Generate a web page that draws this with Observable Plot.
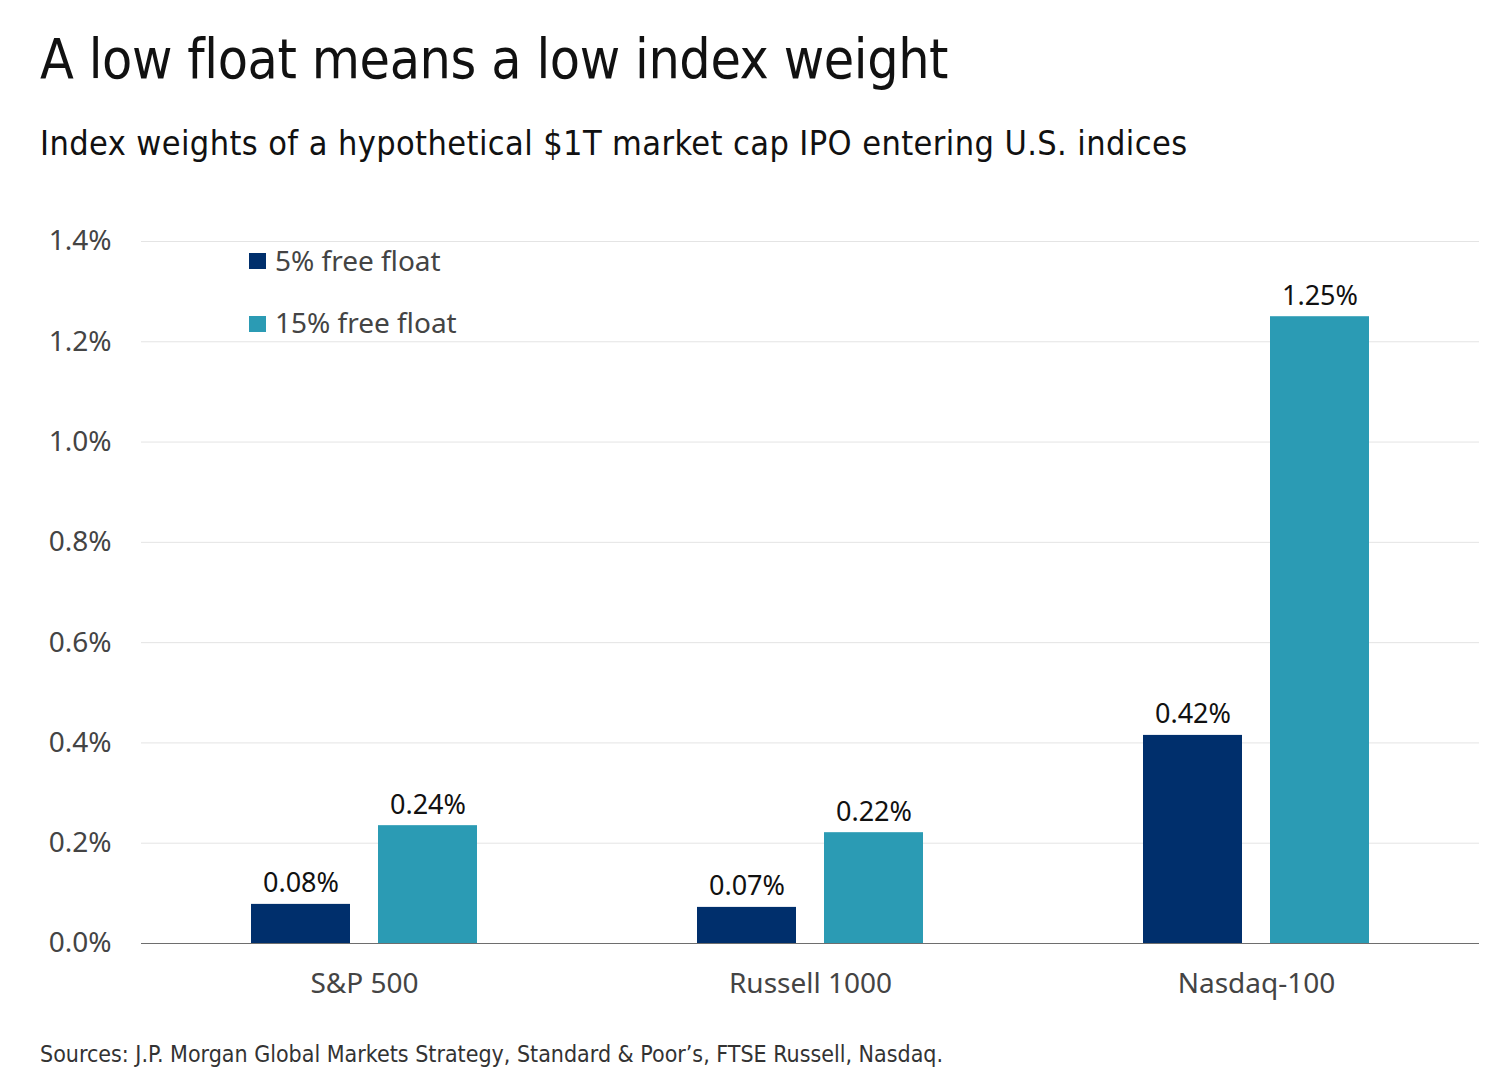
<!DOCTYPE html>
<html>
<head>
<meta charset="utf-8">
<script src="https://cdn.jsdelivr.net/npm/d3@7"></script>
<script src="https://cdn.jsdelivr.net/npm/@observablehq/plot@0.6"></script>
<style>
  html, body { margin: 0; padding: 0; background: #fff; }
  #page { position: relative; width: 1504px; height: 1086px; overflow: hidden; background: #fff; }
  .cond { font-family: "DejaVu Sans Condensed", sans-serif; color: #111; position: absolute; white-space: nowrap; line-height: 1; }
  #title { left: 40px; top: 32px; font-size: 55px; letter-spacing: -0.4px; }
  #subtitle { left: 40px; top: 126px; font-size: 34px; letter-spacing: 0.4px; }
  #footer { left: 40px; top: 1043px; font-size: 23px; color: #333; }
  #chart { position: absolute; left: 0; top: 200px; }
  .leg { position: absolute; font-family: "Noto Sans", sans-serif; font-size: 28px; line-height: 1; color: #444; white-space: nowrap; }
  .sw { position: absolute; width: 17px; height: 16px; }
</style>
</head>
<body>
<div id="page">
  <div id="title" class="cond">A low float means a low index weight</div>
  <div id="subtitle" class="cond">Index weights of a hypothetical $1T market cap IPO entering U.S. indices</div>
  <div id="chart"></div>
  <div id="legend"></div>
  <div id="footer" class="cond">Sources: J.P. Morgan Global Markets Strategy, Standard &amp; Poor’s, FTSE Russell, Nasdaq.</div>
</div>
<script>
const indices = ["S&P 500", "Russell 1000", "Nasdaq-100"];
const floats = ["5% free float", "15% free float"];
const free5 = [0.078, 0.072, 0.415];
const free15 = [0.235, 0.221, 1.25];
const labels5 = ["0.08%", "0.07%", "0.42%"];
const labels15 = ["0.24%", "0.22%", "1.25%"];
const yTicks = [0, 0.2, 0.4, 0.6, 0.8, 1.0, 1.2, 1.4];
const colors = ["#002f6c", "#2b9bb4"];

const data = indices.flatMap((idx, i) => [
  {index: idx, float: floats[0], value: free5[i], label: labels5[i]},
  {index: idx, float: floats[1], value: free15[i], label: labels15[i]}
]);

const chart = Plot.plot({
  width: 1504,
  height: 803,
  marginLeft: 140,
  marginRight: 24,
  marginTop: 41,
  marginBottom: 60,
  style: {fontFamily: "Noto Sans", background: "white", overflow: "visible"},
  fx: {domain: indices, padding: 0, label: null, axis: null},
  x: {domain: floats, paddingInner: 0.21875, paddingOuter: 0.854, axis: null},
  y: {domain: [0, 1.4], axis: null},
  color: {domain: floats, range: colors},
  marks: [
    Plot.ruleY(yTicks.slice(1), {stroke: "#e4e4e4", strokeWidth: 1}),
    Plot.barY(data, {fx: "index", x: "float", y: "value", fill: "float"}),
    Plot.ruleY([0], {stroke: "#6e6e6e", strokeWidth: 1.2}),
    Plot.text(data, {fx: "index", x: "float", y: "value", text: "label", dy: -12, lineAnchor: "bottom", fontSize: 27, fill: "#111"}),
    Plot.axisY(yTicks, {tickSize: 0, tickPadding: 30, tickFormat: d => d.toFixed(1) + "%", fontSize: 28, color: "#444", label: null}),
    Plot.axisFx({anchor: "bottom", tickSize: 0, tickPadding: 30, fontSize: 28, color: "#444", label: null})
  ]
});
document.getElementById("chart").appendChild(chart);

const legend = document.getElementById("legend");
floats.forEach((f, i) => {
  const sw = document.createElement("div");
  sw.className = "sw";
  sw.style.left = "249px";
  sw.style.top = (253 + i * 63) + "px";
  sw.style.background = colors[i];
  legend.appendChild(sw);
  const t = document.createElement("div");
  t.className = "leg";
  t.style.left = "275px";
  t.style.top = (246 + i * 62) + "px";
  t.textContent = f;
  legend.appendChild(t);
});
</script>
</body>
</html>
